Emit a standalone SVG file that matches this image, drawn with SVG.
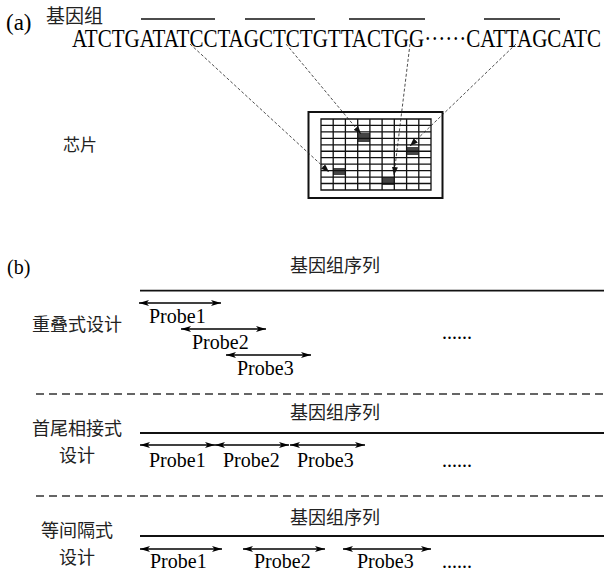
<svg xmlns="http://www.w3.org/2000/svg" width="605" height="574" viewBox="0 0 605 574">
<style>
.ser{font-family:'Liberation Serif','Times New Roman','DejaVu Serif',serif;fill:#000}
.cjk{font-family:'Noto Sans CJK SC','Noto Sans',sans-serif;fill:#222}
.probe{font-size:20px}
.bar{stroke:#111;stroke-width:1.6}
.dash{stroke:#333;stroke-width:1.5;stroke-dasharray:8 5;fill:none}
.arr{stroke:#000;stroke-width:1.5;fill:none;marker-start:url(#ah);marker-end:url(#ah)}
.ptr{stroke:#222;stroke-width:0.8;stroke-dasharray:3 2;fill:none;marker-end:url(#ps)}
.grid{stroke:#111;stroke-width:1.3;fill:none}
.spot{fill:#444}
</style>
<defs>
<marker id="ah" markerUnits="userSpaceOnUse" markerWidth="10" markerHeight="6" viewBox="0 0 10 6" refX="10" refY="3" orient="auto-start-reverse">
<path d="M0,0 L10,3 L0,6 L2.5,3 z" fill="#000"/>
</marker>
<marker id="ps" markerUnits="userSpaceOnUse" markerWidth="8" markerHeight="6" viewBox="0 0 8 6" refX="8" refY="3" orient="auto">
<path d="M0,0 L8,3 L0,6 z" fill="#111"/>
</marker>
</defs>

<g id="part-a">
<text class="ser" x="6" y="30" font-size="23">(a)</text>
<text class="cjk" x="46" y="23" font-size="19">基因组</text>
<g id="overbars">
<line class="bar" x1="141" y1="19" x2="215" y2="19"/>
<line class="bar" x1="245" y1="19" x2="315" y2="19"/>
<line class="bar" x1="349" y1="19" x2="425" y2="19"/>
<line class="bar" x1="484" y1="19" x2="560" y2="19"/>
</g>
<text id="sequence" class="ser" x="0" y="0" font-size="26" transform="translate(72,47) scale(0.809,1)">ATCTGATATCCTAGCTCTGTTACTGG······CATTAGCATC</text>
<text class="cjk" x="63" y="151" font-size="17">芯片</text>

<g id="chip">
<rect x="308.5" y="112" width="134" height="86" fill="#fff" stroke="#111" stroke-width="2"/>
<rect class="spot" x="358" y="133" width="12" height="9"/>
<rect class="spot" x="406.5" y="147" width="12" height="8"/>
<rect class="spot" x="333" y="168" width="12" height="7"/>
<rect class="spot" x="382" y="177" width="12" height="8"/>
<path class="grid" d="M321,119 H431 V190 H321 Z
M333.2,119 V190 M345.4,119 V190 M357.7,119 V190 M369.9,119 V190 M382.1,119 V190 M394.3,119 V190 M406.6,119 V190 M418.8,119 V190
M321,125.45 H431 M321,131.9 H431 M321,138.35 H431 M321,144.8 H431 M321,151.25 H431 M321,157.7 H431 M321,164.15 H431 M321,170.6 H431 M321,177.05 H431 M321,183.5 H431"/>
</g>
</g>

<g id="connectors">
<line class="ptr" x1="190" y1="44" x2="329" y2="172"/>
<line class="ptr" x1="286" y1="44" x2="361" y2="134"/>
<line class="ptr" x1="410" y1="44" x2="394" y2="175"/>
<line class="ptr" x1="516" y1="44" x2="410" y2="146"/>
</g>

<g id="part-b">
<text class="ser" x="7" y="274" font-size="20">(b)</text>

<g id="overlap">
<text class="cjk" x="290" y="272" font-size="18">基因组序列</text>
<line x1="140" y1="290.7" x2="604" y2="290.7" stroke="#111" stroke-width="1.7"/>
<text class="cjk" x="77" y="331" font-size="18" text-anchor="middle">重叠式设计</text>
<line class="arr" x1="139" y1="303" x2="221" y2="303"/>
<line class="arr" x1="181" y1="329" x2="266" y2="329"/>
<line class="arr" x1="226" y1="355" x2="311" y2="355"/>
<text class="ser probe" x="149" y="322.5">Probe1</text>
<text class="ser probe" x="192" y="349">Probe2</text>
<text class="ser probe" x="237" y="375">Probe3</text>
<text class="ser probe" x="442" y="339">......</text>
</g>

<line class="dash" x1="36" y1="394" x2="604" y2="394"/>

<g id="tiling">
<text class="cjk" x="290" y="419" font-size="18">基因组序列</text>
<line x1="140" y1="433" x2="604" y2="433" stroke="#111" stroke-width="2.2"/>
<text class="cjk" x="77" y="435" font-size="18" text-anchor="middle">首尾相接式</text>
<text class="cjk" x="77" y="462" font-size="18" text-anchor="middle">设计</text>
<line class="arr" x1="140" y1="445" x2="215" y2="445"/>
<line class="arr" x1="215" y1="445" x2="289" y2="445"/>
<line class="arr" x1="290" y1="445" x2="365" y2="445"/>
<text class="ser probe" x="149" y="467">Probe1</text>
<text class="ser probe" x="223" y="467">Probe2</text>
<text class="ser probe" x="297" y="467">Probe3</text>
<text class="ser probe" x="442" y="467">......</text>
</g>

<line class="dash" x1="36" y1="496" x2="604" y2="496"/>

<g id="spaced">
<text class="cjk" x="290" y="524" font-size="18">基因组序列</text>
<line x1="140" y1="536" x2="604" y2="536" stroke="#111" stroke-width="2.2"/>
<text class="cjk" x="77" y="537" font-size="18" text-anchor="middle">等间隔式</text>
<text class="cjk" x="77" y="564" font-size="18" text-anchor="middle">设计</text>
<line class="arr" x1="140" y1="549" x2="222" y2="549"/>
<line class="arr" x1="243" y1="549" x2="325" y2="549"/>
<line class="arr" x1="343" y1="549" x2="431" y2="549"/>
<text class="ser probe" x="150" y="568">Probe1</text>
<text class="ser probe" x="254" y="568">Probe2</text>
<text class="ser probe" x="357" y="568">Probe3</text>
<text class="ser probe" x="442" y="568">......</text>
</g>
</g>
</svg>
